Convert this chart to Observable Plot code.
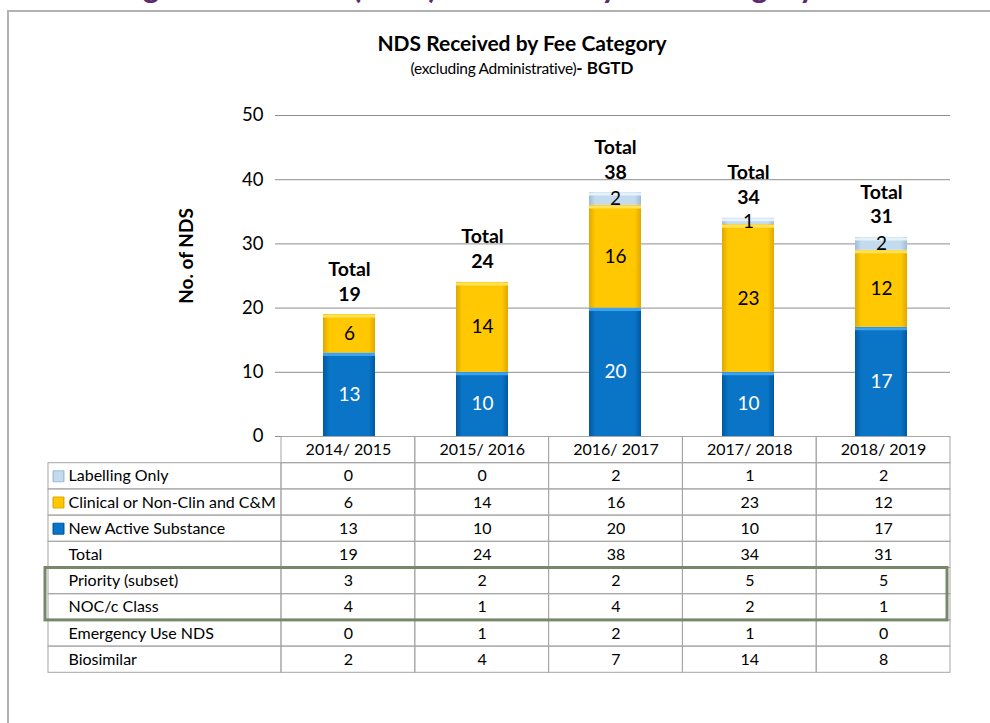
<!DOCTYPE html>
<html>
<head>
<meta charset="utf-8">
<script src="https://cdn.jsdelivr.net/npm/d3@7"></script>
<script src="https://cdn.jsdelivr.net/npm/@observablehq/plot@0.6"></script>
<style>
  html, body { margin: 0; padding: 0; background: #fff; }
  #page { position: relative; width: 990px; height: 723px; overflow: hidden; font-family: Lato, "Open Sans", sans-serif; }
  #frame { position: absolute; left: 7px; top: 10px; width: 1100px; height: 800px; border-left: 2px solid #b2b2b2; border-top: 2px solid #b2b2b2; }
  #pagetitle { position: absolute; left: 14px; top: -30px; font: bold 31.5px Lato; color: #5d2a70; white-space: nowrap; line-height: 32px; letter-spacing: 0.4px; }
  #title { position: absolute; left: 522px; top: 30px; transform: translateX(-50%); font: bold 21px Lato; color: #000; white-space: nowrap; }
  #subtitle { position: absolute; left: 522px; top: 57px; transform: translateX(-50%); font-size: 15.5px; color: #000; white-space: nowrap; letter-spacing: -0.3px; }
  #subtitle b { font-size: 17px; letter-spacing: 0; }
  #ytitle { position: absolute; left: 185px; top: 256px; transform: translate(-50%, -50%) rotate(-90deg); font: bold 19px Lato; white-space: nowrap; }
  .plot { position: absolute; left: 0; }
  .plot svg { overflow: visible; }
</style>
</head>
<body>
<div id="page">
  <div id="pagetitle">New Drug Submissions (NDS) Received by Fee Category</div>
  <div id="frame"></div>
  <div id="title">NDS Received by Fee Category</div>
  <div id="subtitle">(excluding Administrative)<b>- BGTD</b></div>
  <div id="ytitle">No. of NDS</div>
  <div id="chart" class="plot" style="top:0px"></div>
  <div id="table" class="plot" style="top:436px"></div>
</div>
<script>
// ---------- data ----------
const years = ["2014/ 2015", "2015/ 2016", "2016/ 2017", "2017/ 2018", "2018/ 2019"];
const labellingOnly = [0, 0, 2, 1, 2];
const clinical = [6, 14, 16, 23, 12];
const newActive = [13, 10, 20, 10, 17];
const totals = [19, 24, 38, 34, 31];
const priority = [3, 2, 2, 5, 5];
const nocClass = [4, 1, 4, 2, 1];
const emergencyUse = [0, 1, 2, 1, 0];
const biosimilar = [2, 4, 7, 14, 8];
const seriesNames = ["New Active Substance", "Clinical or Non-Clin and C&M", "Labelling Only"];
const rowLabels = ["Labelling Only", "Clinical or Non-Clin and C&M", "New Active Substance", "Total",
                   "Priority (subset)", "NOC/c Class", "Emergency Use NDS", "Biosimilar"];
const rowValues = [labellingOnly, clinical, newActive, totals, priority, nocClass, emergencyUse, biosimilar];
const highlightRows = ["Priority (subset)", "NOC/c Class"];
const yTicks = [0, 10, 20, 30, 40, 50];

// ---------- styling ----------
const FONT = "Lato, 'Open Sans', sans-serif";
const grads = {
  "New Active Substance": {id: "gBlue", stops: ["#0059a0", "#0a74c6", "#0a74c6", "#0059a0"], hi: "#3ea2ec"},
  "Clinical or Non-Clin and C&M": {id: "gYellow", stops: ["#e0a800", "#ffc800", "#ffc800", "#e0a800"], hi: "#ffe15a"},
  "Labelling Only": {id: "gLab", stops: ["#9fbcd4", "#c4dbee", "#c4dbee", "#9fbcd4"], hi: "#e6f2fa"}
};
function defsMark(suffix) {
  return () => {
    const defs = d3.create("svg:defs");
    for (const k of seriesNames) {
      const g = grads[k];
      const lg = defs.append("linearGradient").attr("id", g.id + suffix)
        .attr("x1", 0).attr("x2", 1).attr("y1", 0).attr("y2", 0);
      [0, 0.12, 0.88, 1].forEach((o, j) => lg.append("stop").attr("offset", o).attr("stop-color", g.stops[j]));
    }
    return defs.node();
  };
}

// ---------- bar chart ----------
const long = [];
years.forEach((yr, i) => {
  long.push({year: yr, series: seriesNames[0], value: newActive[i]});
  long.push({year: yr, series: seriesNames[1], value: clinical[i]});
  long.push({year: yr, series: seriesNames[2], value: labellingOnly[i]});
});
const totalData = years.map((yr, i) => ({year: yr, total: totals[i]}));

const chart = Plot.plot({
  width: 990, height: 440,
  marginTop: 115, marginBottom: 4, marginLeft: 281, marginRight: 40,
  style: {fontFamily: FONT, background: "transparent", overflow: "visible"},
  x: {domain: years, paddingInner: 0.606, paddingOuter: 0.303, axis: null},
  y: {domain: [0, 50], axis: null},
  color: {domain: seriesNames, range: seriesNames.map(k => `url(#${grads[k].id}a)`)},
  marks: [
    defsMark("a"),
    Plot.ruleY(yTicks, {stroke: "#8e8e8e", strokeWidth: 1}),
    Plot.axisY({ticks: yTicks, tickSize: 6, tickPadding: 12, fontSize: 18.5, stroke: "#8e8e8e", label: null, line: true, color: "#000"}),
    Plot.barY(long, Plot.stackY({x: "year", y: "value", z: "series", fill: "series", order: seriesNames})),
    Plot.tickY(long, Plot.stackY2({filter: d => d.value > 0, x: "year", y: "value", z: "series", order: seriesNames,
      stroke: d => grads[d.series].hi, strokeWidth: 3, dy: 1.5})),
    Plot.text(long, Plot.stackY({filter: d => d.value > 0, x: "year", y: "value", z: "series", order: seriesNames,
      text: "value", fill: d => d.series === seriesNames[0] ? "#ffffff" : "#000000", fontSize: 19})),
    Plot.text(totalData, {x: "year", y: "total", text: d => `Total\n${d.total}`, lineAnchor: "bottom",
      lineHeight: 1.28, dy: -14, fontSize: 19.5, fontWeight: "bold", fill: "#000"})
  ]
});
document.getElementById("chart").appendChild(chart);

// ---------- table ----------
const labelColPx = 233, colPx = 669 / years.length;
const labelX = -labelColPx / colPx;
const headerCells = years.map((yr, i) => ({x1: i, x2: i + 1, y1: 0, y2: 1, text: yr}));
const valueCells = [];
rowValues.forEach((vals, r) => vals.forEach((v, i) => valueCells.push({x1: i, x2: i + 1, y1: r + 1, y2: r + 2, text: String(v)})));
const labelCells = rowLabels.map((label, r) => ({x1: labelX, x2: 0, y1: r + 1, y2: r + 2, label}));
const hi = [{x1: labelX, x2: years.length,
  y1: rowLabels.indexOf(highlightRows[0]) + 1, y2: rowLabels.indexOf(highlightRows[1]) + 2}];

const table = Plot.plot({
  width: 990, height: 240, margin: 0,
  style: {fontFamily: FONT, background: "transparent", overflow: "visible"},
  x: {type: "linear", domain: [0, years.length], range: [281, 950], axis: null},
  y: {type: "linear", domain: [0, rowLabels.length + 1], range: [0.5, 0.5 + 26.2 * (rowLabels.length + 1)], axis: null},
  color: {domain: seriesNames, range: seriesNames.map(k => `url(#${grads[k].id}b)`)},
  marks: [
    defsMark("b"),
    Plot.rect([...headerCells, ...valueCells, ...labelCells], {x1: "x1", x2: "x2", y1: "y1", y2: "y2", fill: "none", stroke: "#a6a6a6", strokeWidth: 1}),
    Plot.text([...headerCells, ...valueCells], {x: d => (d.x1 + d.x2) / 2, y: d => (d.y1 + d.y2) / 2, text: "text", fontSize: 16, fill: "#000"}),
    Plot.text(labelCells, {x: "x1", y: d => (d.y1 + d.y2) / 2, text: "label", textAnchor: "start", dx: 20, fontSize: 16, fill: "#000"}),
    Plot.dot(labelCells.filter(d => seriesNames.includes(d.label)), {x: "x1", y: d => (d.y1 + d.y2) / 2, dx: 10, symbol: "square", r: 6.2,
      fill: "label", stroke: d => grads[d.label].stops[0], strokeWidth: 1}),
    Plot.rect(hi, {x1: "x1", x2: "x2", y1: "y1", y2: "y2", fill: "none", stroke: "#76876a", strokeWidth: 3, insetLeft: -3, insetRight: 3})
  ]
});
document.getElementById("table").appendChild(table);
</script>
</body>
</html>
